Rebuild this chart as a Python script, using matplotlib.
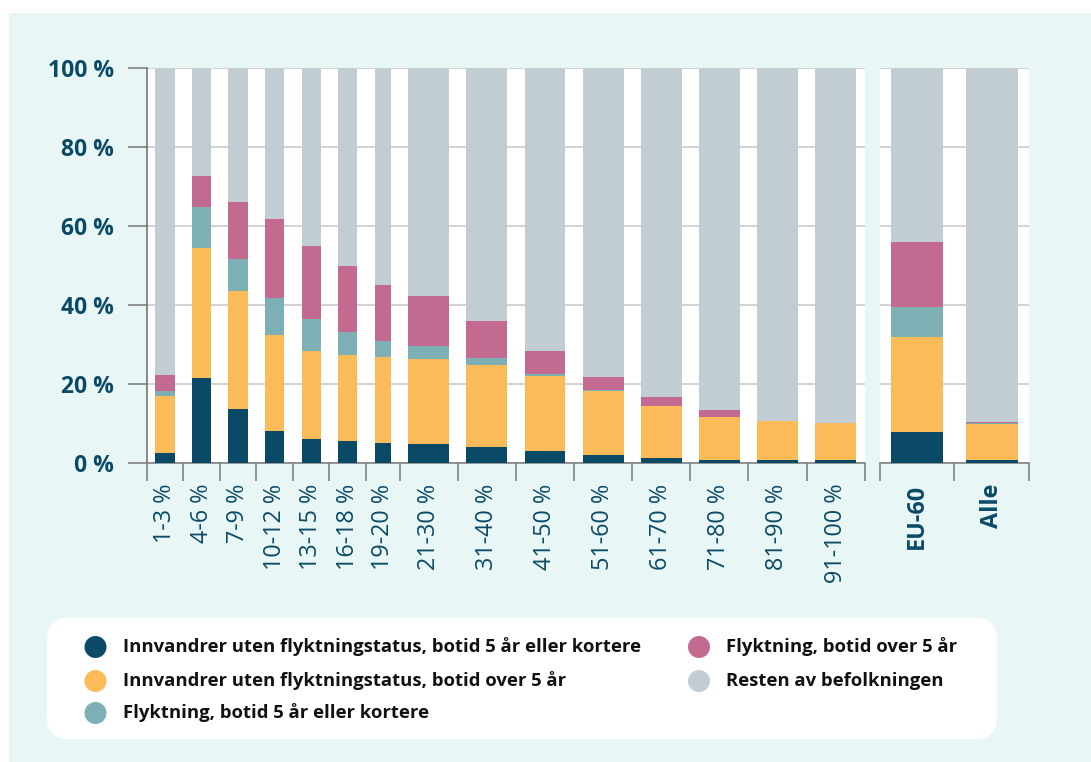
import matplotlib
matplotlib.use("Agg")
import matplotlib.pyplot as plt
from matplotlib.patches import FancyBboxPatch, Rectangle, Ellipse
import numpy as np

# ---------------- data ----------------
categories = ["1-3 %", "4-6 %", "7-9 %", "10-12 %", "13-15 %", "16-18 %", "19-20 %",
              "21-30 %", "31-40 %", "41-50 %", "51-60 %", "61-70 %", "71-80 %",
              "81-90 %", "91-100 %"]
summary_categories = ["EU-60", "Alle"]

innv_kort = [2.6, 21.6, 13.8, 8.2, 6.2, 5.7, 5.2, 4.9, 4.1, 3.1, 2.1, 1.35, 0.85, 0.85, 0.85]
innv_lang = [14.5, 32.8, 29.9, 24.3, 22.3, 21.8, 21.8, 21.6, 20.8, 19.0, 16.2, 13.15, 10.85, 9.75, 9.35]
flykt_kort = [1.1, 10.4, 7.9, 9.4, 8.1, 5.8, 4.0, 3.3, 1.8, 0.6, 0.3, 0.1, 0.0, 0.0, 0.0]
flykt_lang = [4.2, 7.8, 14.4, 19.8, 18.3, 16.7, 14.0, 12.6, 9.4, 5.8, 3.3, 2.2, 1.8, 0.0, 0.0]

sum_innv_kort = [7.9, 0.85]
sum_innv_lang = [24.1, 9.15]
sum_flykt_kort = [7.6, 0.1]
sum_flykt_lang = [16.5, 0.4]

series_names = ["Innvandrer uten flyktningstatus, botid 5 år eller kortere",
                "Innvandrer uten flyktningstatus, botid over 5 år",
                "Flyktning, botid 5 år eller kortere",
                "Flyktning, botid over 5 år",
                "Resten av befolkningen"]
colors = ["#0b4a66", "#fbbb58", "#7cb0b5", "#c26a8f", "#c2cdd3"]

yticks = [0, 20, 40, 60, 80, 100]
ytick_labels = ["0 %", "20 %", "40 %", "60 %", "80 %", "100 %"]

# ---------------- layout ----------------
W, H = 1091, 762
TXT = "#0b4a66"
BG = "#e9f6f6"
FONT = ["Open Sans", "DejaVu Sans"]
plt.rcParams["font.family"] = FONT

fig = plt.figure(figsize=(W / 100, H / 100), dpi=100)
fig.patch.set_facecolor("white")
fig.patches.append(Rectangle((9 / W, 0), 1 - 9 / W, 1 - 13 / H, transform=fig.transFigure,
                             facecolor=BG, edgecolor="none", zorder=-10))

def fbox(x0, x1, ytop, ybot):
    return [x0 / W, 1 - ybot / H, (x1 - x0) / W, (ybot - ytop) / H]

y_top, y_bot = 68, 463.3
ax = fig.add_axes(fbox(146.7, 864.7, y_top, y_bot))
ax2 = fig.add_axes(fbox(880, 1028.7, y_top, y_bot))

# slot widths (layout, px-like units)
slot_w = np.array([36.6] * 6 + [33.6] + [58.2] * 8)
edges = np.concatenate([[0], np.cumsum(slot_w)])
centers = (edges[:-1] + edges[1:]) / 2
bar_w = slot_w - 17.3

def stack(a, x, widths, parts):
    bottom = np.zeros(len(x))
    allparts = list(parts) + [100 - np.sum(parts, axis=0)]
    for vals, c in zip(allparts, colors):
        vals = np.asarray(vals, dtype=float)
        a.bar(x, vals, width=widths, bottom=bottom, color=c, linewidth=0, zorder=3)
        bottom += vals

stack(ax, centers, bar_w, [innv_kort, innv_lang, flykt_kort, flykt_lang])

slot2 = np.array([74.35, 74.35])
edges2 = np.concatenate([[0], np.cumsum(slot2)])
centers2 = (edges2[:-1] + edges2[1:]) / 2
stack(ax2, centers2, np.array([52, 52]), [sum_innv_kort, sum_innv_lang, sum_flykt_kort, sum_flykt_lang])

for a, e, c, labels, bold in [(ax, edges, centers, categories, False),
                              (ax2, edges2, centers2, summary_categories, True)]:
    a.set_facecolor("white")
    a.set_xlim(e[0], e[-1])
    a.set_ylim(0, 100)
    a.set_xticks(e)
    a.set_xticklabels([])
    a.set_xticks(c, minor=True)
    a.set_xticklabels(labels, minor=True, rotation=90, color=TXT, fontsize=16.8,
                      fontweight="bold" if bold else "normal", va="top", ha="center")
    a.tick_params(axis="x", which="major", length=13, width=1.1, color="#7a7a7a", direction="out")
    a.tick_params(axis="x", which="minor", length=0, pad=14.5)
    for s in ["top", "right"]:
        a.spines[s].set_visible(False)
    a.spines["bottom"].set_color("#7a7a7a")
    a.spines["bottom"].set_linewidth(1.1)
    a.set_yticks(yticks)
    a.yaxis.grid(True, color="#cfcfcf", linewidth=1.3, zorder=0)
    a.set_axisbelow(True)

ax.spines["left"].set_color("#6a6a6a")
ax.spines["left"].set_linewidth(1.1)
ax.set_yticklabels(ytick_labels, color=TXT, fontsize=16.5, fontweight="bold")
ax.tick_params(axis="y", length=13.5, width=1.1, color="#7a7a7a", pad=10)
ax2.spines["left"].set_visible(False)
ax2.tick_params(axis="y", length=0, labelleft=False)

# ---------------- legend ----------------
box = FancyBboxPatch((47 / W, 1 - 739 / H), (997 - 47) / W, (739 - 618) / H,
                     boxstyle="round,pad=0,rounding_size=0.02", transform=fig.transFigure,
                     facecolor="white", edgecolor="none", mutation_aspect=W / H)
fig.patches.append(box)

legend_pos = [(95.5, 647, 123), (95.5, 681, 123), (95.5, 713, 123), (699, 647, 726), (699, 681, 726)]
for (mx, my, tx), name, c in zip(legend_pos, series_names, colors):
    fig.patches.append(Ellipse((mx / W, 1 - my / H), 22 / W, 22 / H, transform=fig.transFigure,
                               facecolor=c, edgecolor="none"))
    fig.text(tx / W, 1 - my / H, name, fontsize=13.3, fontweight="bold", color="#111111",
             va="center", ha="left")

fig.savefig("out.png", dpi=100, facecolor=fig.get_facecolor())
